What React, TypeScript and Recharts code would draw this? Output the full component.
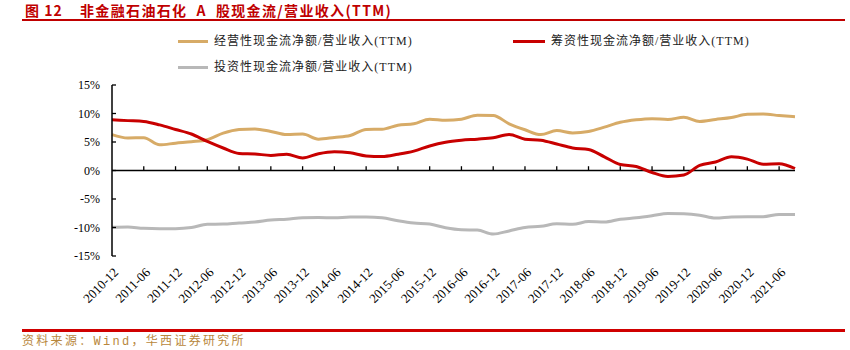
import React from 'react';
import { LineChart, Line, XAxis, YAxis, ReferenceLine } from 'recharts';

const quarters = [
  '2010-12', '2011-03', '2011-06', '2011-09', '2011-12', '2012-03', '2012-06', '2012-09',
  '2012-12', '2013-03', '2013-06', '2013-09', '2013-12', '2014-03', '2014-06', '2014-09',
  '2014-12', '2015-03', '2015-06', '2015-09', '2015-12', '2016-03', '2016-06', '2016-09',
  '2016-12', '2017-03', '2017-06', '2017-09', '2017-12', '2018-03', '2018-06', '2018-09',
  '2018-12', '2019-03', '2019-06', '2019-09', '2019-12', '2020-03', '2020-06', '2020-09',
  '2020-12', '2021-03', '2021-06', '2021-09',
];

const operating = [
  6.3, 5.7, 5.75, 4.5, 4.8, 5.05, 5.4, 6.55, 7.2, 7.3, 6.85, 6.3, 6.4, 5.5, 5.8, 6.15,
  7.2, 7.25, 7.95, 8.2, 9.0, 8.8, 9.0, 9.7, 9.65, 8.2, 7.15, 6.3, 7.0, 6.6, 6.85, 7.6,
  8.45, 8.9, 9.1, 8.95, 9.35, 8.6, 8.95, 9.3, 9.85, 9.9, 9.65, 9.45,
];

const financing = [
  8.9, 8.75, 8.6, 8.0, 7.2, 6.4, 5.1, 3.95, 3.0, 2.9, 2.65, 2.85, 2.2, 2.95, 3.3, 3.1,
  2.55, 2.45, 2.85, 3.4, 4.3, 4.95, 5.3, 5.5, 5.75, 6.3, 5.5, 5.3, 4.65, 3.95, 3.7, 2.4,
  1.05, 0.7, -0.35, -1.05, -0.8, 0.9, 1.5, 2.4, 2.0, 1.1, 1.2, 0.35,
];

const investing = [
  -9.95, -9.9, -10.15, -10.2, -10.2, -10.0, -9.45, -9.4, -9.2, -9.05, -8.7, -8.55, -8.3, -8.25, -8.3, -8.15,
  -8.15, -8.3, -8.8, -9.2, -9.4, -10.05, -10.4, -10.45, -11.15, -10.6, -10.0, -9.8, -9.35, -9.45, -8.95, -9.05,
  -8.55, -8.3, -7.95, -7.55, -7.6, -7.85, -8.35, -8.15, -8.1, -8.1, -7.7, -7.7,
];

const yTicks = [-15, -10, -5, 0, 5, 10, 15];

const seriesNames = {
  operating: '经营性现金流净额/营业收入(TTM)',
  financing: '筹资性现金流净额/营业收入(TTM)',
  investing: '投资性现金流净额/营业收入(TTM)',
};

const colors = {
  operating: '#D7AB67',
  financing: '#C80000',
  investing: '#B8B8B8',
};

const data = quarters.map((q, i) => ({
  q,
  operating: operating[i],
  financing: financing[i],
  investing: investing[i],
}));

const markedQuarters = quarters.filter((_, i) => i % 2 === 0 && i > 0);

const serif = '"Liberation Serif", "Times New Roman", "Noto Sans CJK SC", serif';

const XTick = (props: any) => {
  const { x, y, payload } = props;
  const ax = x + 4;
  const ay = y + 6;
  return (
    <text
      x={ax}
      y={ay}
      dy="0.35em"
      textAnchor="end"
      transform={`rotate(-45 ${ax} ${ay})`}
      fontSize={13}
      fontFamily={serif}
      fill="#000"
    >
      {payload.value}
    </text>
  );
};

const YTick = (props: any) => {
  const { x, y, payload } = props;
  return (
    <g>
      <text x={x} y={y} dy="0.35em" textAnchor="end" fontSize={12} fontFamily={serif} fill="#000">
        {`${payload.value}%`}
      </text>
      <line x1={x + 12} x2={x + 16} y1={y} y2={y} stroke="#000" strokeWidth={1.3} />
    </g>
  );
};

const legendText: React.CSSProperties = {
  position: 'absolute',
  fontSize: 12,
  fontFamily: serif,
  color: '#222',
  letterSpacing: 1,
  lineHeight: '14px',
  whiteSpace: 'nowrap',
};

const titleStyle: React.CSSProperties = {
  position: 'absolute',
  top: 1,
  fontSize: 14,
  fontWeight: 'bold',
  color: '#C00000',
  fontFamily: '"Noto Sans CJK SC", sans-serif',
  lineHeight: '18px',
  whiteSpace: 'pre',
};

export default function App() {
  return (
    <div style={{ position: 'absolute', left: 0, top: 0, width: 850, height: 350, background: '#fff' }}>
      <div style={{ ...titleStyle, left: 25, letterSpacing: 1 }}>图 12</div>
      <div style={{ ...titleStyle, left: 80, letterSpacing: 1.35 }}>非金融石油石化  A  股现金流/营业收入(TTM)</div>
      <div style={{ position: 'absolute', left: 22, top: 19, width: 823, height: 2, background: '#C00000' }} />

      <div style={{ position: 'absolute', left: 178, top: 40, width: 30, height: 3, background: colors.operating }} />
      <div style={{ ...legendText, left: 214, top: 34 }}>{seriesNames.operating}</div>
      <div style={{ position: 'absolute', left: 513, top: 40, width: 32, height: 3, background: colors.financing }} />
      <div style={{ ...legendText, left: 551, top: 34 }}>{seriesNames.financing}</div>
      <div style={{ position: 'absolute', left: 178, top: 66, width: 30, height: 3, background: colors.investing }} />
      <div style={{ ...legendText, left: 214, top: 60 }}>{seriesNames.investing}</div>

      <div style={{ position: 'absolute', left: 0, top: 0 }}>
        <LineChart width={850} height={350} data={data} margin={{ top: 85, right: 55, left: 0, bottom: 34 }}>
          <XAxis
            dataKey="q"
            interval={1}
            axisLine={false}
            tickLine={false}
            height={60}
            tick={<XTick />}
            padding={{ left: 0, right: 0 }}
          />
          <YAxis
            width={112}
            domain={[-15, 15]}
            ticks={yTicks}
            interval={0}
            tickLine={false}
            tickMargin={6}
            axisLine={{ stroke: '#000', strokeWidth: 1.5 }}
            tick={<YTick />}
          />
          <ReferenceLine y={0} stroke="#000" strokeWidth={1.5} />
          {markedQuarters.map((q) => (
            <ReferenceLine key={q} segment={[{ x: q, y: 0 }, { x: q, y: 0.75 }]} stroke="#000" strokeWidth={1.3} />
          ))}
          <Line dataKey="investing" type="monotone" stroke={colors.investing} strokeWidth={3} dot={false} isAnimationActive={false} />
          <Line dataKey="operating" type="monotone" stroke={colors.operating} strokeWidth={3} dot={false} isAnimationActive={false} />
          <Line dataKey="financing" type="monotone" stroke={colors.financing} strokeWidth={3} dot={false} isAnimationActive={false} />
        </LineChart>
      </div>

      <div style={{ position: 'absolute', left: 22, top: 329, width: 823, height: 2.5, background: '#D00000' }} />
      <div
        style={{
          position: 'absolute', left: 22, top: 334, fontSize: 12, color: '#B8873C', letterSpacing: 2.3,
          fontFamily: '"Liberation Mono", "Noto Sans CJK SC", monospace', lineHeight: '16px', whiteSpace: 'nowrap',
        }}
      >
        资料来源：Wind，华西证券研究所
      </div>
    </div>
  );
}
